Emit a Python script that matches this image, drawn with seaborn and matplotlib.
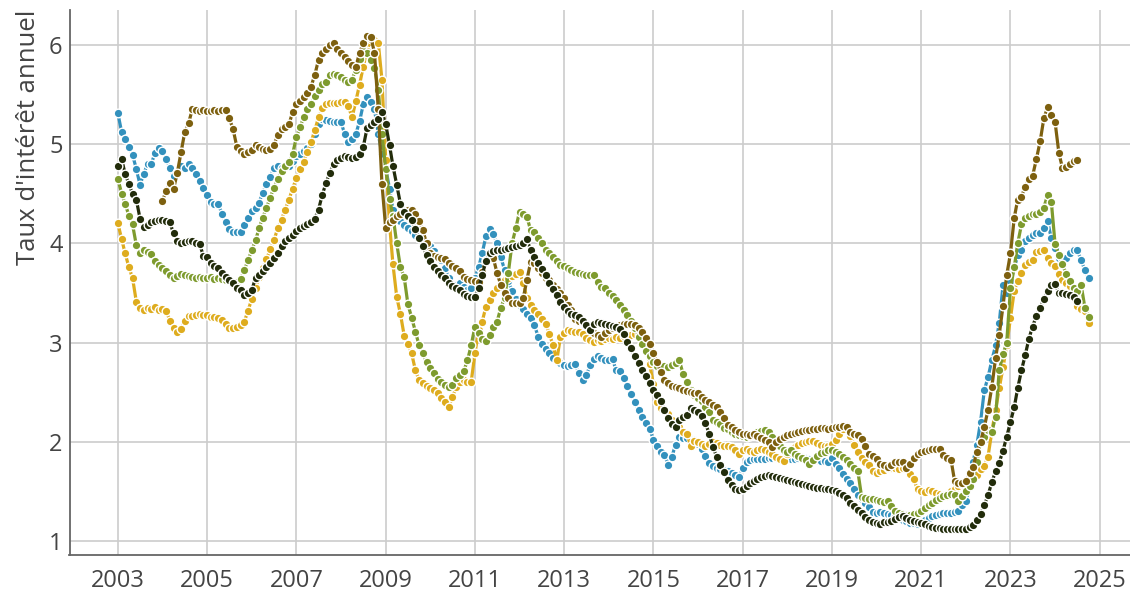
import pandas as pd
import matplotlib
matplotlib.use('Agg')
import matplotlib.pyplot as plt
import matplotlib.dates as mdates
from matplotlib.ticker import FixedLocator
import seaborn as sns

# taux mensuels, une ligne par année
blue = [
    5.31, 5.12, 5.05, 4.97, 4.89, 4.75, 4.59, 4.70, 4.80, 4.80, 4.91, 4.96,
    4.93, 4.85, 4.76, 4.68, 4.72, 4.78, 4.76, 4.80, 4.76, 4.70, 4.63, 4.56,
    4.49, 4.42, 4.40, 4.40, 4.30, 4.21, 4.14, 4.11, 4.11, 4.11, 4.18, 4.26,
    4.33, 4.36, 4.41, 4.51, 4.60, 4.67, 4.76, 4.78, 4.76, 4.77, 4.78, 4.83,
    4.88, 4.90, 4.93, 4.96, 5.00, 5.10, 5.20, 5.25, 5.24, 5.23, 5.22, 5.22,
    5.22, 5.10, 5.02, 5.05, 5.10, 5.23, 5.40, 5.47, 5.42, 5.35, 5.10, 4.90,
    4.76, 4.55, 4.34, 4.25, 4.22, 4.18, 4.15, 4.12, 4.08, 4.05, 4.02, 3.99,
    3.97, 3.92, 3.87, 3.83, 3.75, 3.65, 3.56, 3.58, 3.60, 3.56, 3.53, 3.55,
    3.65, 3.76, 3.90, 4.07, 4.14, 4.09, 4.00, 3.86, 3.73, 3.62, 3.52, 3.44,
    3.38, 3.34, 3.29, 3.25, 3.18, 3.06, 2.99, 2.93, 2.89, 2.84, 2.81, 2.79,
    2.77, 2.76, 2.77, 2.78, 2.69, 2.62, 2.67, 2.77, 2.83, 2.86, 2.84, 2.82,
    2.82, 2.83, 2.72, 2.71, 2.64, 2.56, 2.48, 2.40, 2.32, 2.25, 2.19, 2.13,
    2.02, 1.96, 1.90, 1.87, 1.77, 1.85, 1.97, 2.05, 2.04, 2.04, 2.03, 2.02,
    1.98, 1.93, 1.86, 1.79, 1.76, 1.74, 1.72, 1.71, 1.70, 1.68, 1.66, 1.64,
    1.74, 1.80, 1.82, 1.83, 1.83, 1.83, 1.83, 1.84, 1.84, 1.84, 1.83, 1.82,
    1.83, 1.83, 1.83, 1.84, 1.85, 1.84, 1.83, 1.82, 1.82, 1.81, 1.81, 1.80,
    1.84, 1.78, 1.74, 1.67, 1.62, 1.58, 1.52, 1.46, 1.42, 1.38, 1.34, 1.29,
    1.28, 1.29, 1.28, 1.27, 1.26, 1.25, 1.23, 1.21, 1.20, 1.18, 1.18, 1.17,
    1.19, 1.21, 1.23, 1.25, 1.26, 1.27, 1.28, 1.28, 1.28, 1.29, 1.30, 1.36,
    1.40, 1.55, 1.80, 1.97, 2.20, 2.52, 2.65, 2.82, 2.97, 3.20, 3.58, 3.50,
    3.62, 3.75, 3.88, 3.93, 4.02, 4.05, 4.08, 4.10, 4.10, 4.15, 4.22, 4.05,
    3.95, 3.85, 3.85, 3.85, 3.90, 3.93, 3.93, 3.83, 3.73, 3.65,
]

dark = [
    4.78, 4.85, 4.70, 4.60, 4.50, 4.44, 4.25, 4.16, 4.18, 4.21, 4.23, 4.24,
    4.24, 4.23, 4.21, 4.10, 4.02, 4.00, 4.01, 4.02, 4.02, 4.00, 3.99, 3.87,
    3.86, 3.80, 3.77, 3.75, 3.70, 3.66, 3.63, 3.60, 3.55, 3.53, 3.48, 3.50,
    3.53, 3.65, 3.68, 3.72, 3.76, 3.80, 3.85, 3.90, 3.97, 4.02, 4.05, 4.08,
    4.12, 4.15, 4.17, 4.19, 4.21, 4.25, 4.34, 4.49, 4.61, 4.71, 4.80, 4.84,
    4.86, 4.88, 4.87, 4.86, 4.87, 4.90, 4.97, 5.16, 5.19, 5.22, 5.25, 5.32,
    5.20, 4.99, 4.78, 4.59, 4.40, 4.32, 4.28, 4.24, 4.14, 4.05, 3.97, 3.88,
    3.82, 3.76, 3.72, 3.68, 3.65, 3.60, 3.57, 3.55, 3.53, 3.49, 3.47, 3.46,
    3.46, 3.55, 3.68, 3.82, 3.90, 3.92, 3.93, 3.93, 3.94, 3.95, 3.96, 3.97,
    3.98, 4.00, 4.04, 3.93, 3.86, 3.80, 3.74, 3.68, 3.60, 3.54, 3.48, 3.41,
    3.36, 3.32, 3.29, 3.28, 3.26, 3.22, 3.18, 3.13, 3.19, 3.21, 3.20, 3.19,
    3.18, 3.17, 3.16, 3.14, 3.09, 3.01, 2.94, 2.86, 2.79, 2.72, 2.66, 2.59,
    2.52, 2.47, 2.41, 2.32, 2.24, 2.18, 2.15, 2.22, 2.25, 2.27, 2.34, 2.32,
    2.30, 2.26, 2.19, 2.08, 1.95, 1.85, 1.77, 1.69, 1.61, 1.56, 1.52, 1.51,
    1.52, 1.55, 1.58, 1.60, 1.62, 1.64, 1.65, 1.66, 1.65, 1.64, 1.63, 1.62,
    1.61, 1.60, 1.59, 1.58, 1.57, 1.56, 1.55, 1.54, 1.53, 1.53, 1.52, 1.52,
    1.51, 1.50, 1.48, 1.46, 1.43, 1.38, 1.35, 1.31, 1.28, 1.24, 1.21, 1.19,
    1.18, 1.17, 1.19, 1.19, 1.20, 1.22, 1.24, 1.25, 1.23, 1.21, 1.20, 1.19,
    1.18, 1.17, 1.15, 1.14, 1.13, 1.13, 1.12, 1.12, 1.12, 1.12, 1.12, 1.12,
    1.12, 1.14, 1.16, 1.21, 1.27, 1.36, 1.46, 1.59, 1.70, 1.79, 1.91, 2.05,
    2.20, 2.35, 2.54, 2.72, 2.87, 3.04, 3.16, 3.27, 3.35, 3.44, 3.52, 3.58,
    3.59, 3.50, 3.50, 3.49, 3.48, 3.46, 3.42,
]

# commence en janvier 2004
brown = [
    4.43, 4.53, 4.61, 4.55, 4.71, 4.92, 5.12, 5.21, 5.35, 5.34, 5.33, 5.34,
    5.33, 5.33, 5.34, 5.33, 5.34, 5.34, 5.26, 5.15, 4.97, 4.93, 4.90, 4.92,
    4.94, 4.99, 4.97, 4.95, 4.94, 4.95, 4.99, 5.09, 5.15, 5.17, 5.20, 5.32,
    5.40, 5.43, 5.48, 5.52, 5.58, 5.70, 5.85, 5.92, 5.96, 6.00, 6.02, 5.96,
    5.92, 5.88, 5.84, 5.80, 5.78, 5.92, 6.02, 6.09, 6.08, 5.92, 5.35, 4.60,
    4.15, 4.21, 4.24, 4.28, 4.30, 4.33, 4.34, 4.34, 4.30, 4.22, 4.13, 4.00,
    3.90, 3.87, 3.86, 3.85, 3.84, 3.80, 3.77, 3.75, 3.72, 3.66, 3.64, 3.63,
    3.62, 3.61, 3.71, 3.83, 3.85, 3.85, 3.70, 3.58, 3.50, 3.45, 3.40, 3.40,
    3.40, 3.45, 3.63, 3.81, 3.80, 3.75, 3.70, 3.65, 3.63, 3.58, 3.54, 3.50,
    3.45, 3.38, 3.33, 3.24, 3.22, 3.21, 3.19, 3.16, 3.10, 3.08, 3.06, 3.10,
    3.13, 3.15, 3.17, 3.18, 3.19, 3.19, 3.19, 3.18, 3.15, 3.11, 3.05, 2.99,
    2.89, 2.80, 2.70, 2.62, 2.59, 2.56, 2.55, 2.54, 2.52, 2.51, 2.50, 2.49,
    2.49, 2.45, 2.42, 2.40, 2.37, 2.35, 2.30, 2.24, 2.17, 2.15, 2.12, 2.10,
    2.08, 2.08, 2.07, 2.08, 2.06, 2.04, 2.02, 2.00, 1.95, 2.00, 2.03, 2.05,
    2.07, 2.08, 2.09, 2.10, 2.11, 2.12, 2.12, 2.13, 2.13, 2.14, 2.14, 2.13,
    2.14, 2.15, 2.15, 2.16, 2.15, 2.10, 2.08, 2.07, 2.03, 1.96, 1.88, 1.86,
    1.83, 1.78, 1.77, 1.75, 1.77, 1.80, 1.80, 1.80, 1.73, 1.78, 1.84, 1.88,
    1.90, 1.91, 1.92, 1.93, 1.93, 1.93, 1.87, 1.84, 1.82, 1.60, 1.58, 1.58,
    1.60, 1.68, 1.75, 1.90, 2.00, 2.15, 2.32, 2.55, 2.84, 3.08, 3.37, 3.68,
    3.90, 4.26, 4.44, 4.47, 4.57, 4.65, 4.68, 4.85, 5.03, 5.26, 5.37, 5.29,
    5.22, 4.91, 4.76, 4.77, 4.80, 4.83, 4.84,
]

green = [
    4.65, 4.50, 4.40, 4.28, 4.19, 3.98, 3.90, 3.93, 3.91, 3.89, 3.82, 3.78,
    3.75, 3.72, 3.68, 3.65, 3.67, 3.69, 3.68, 3.67, 3.66, 3.65, 3.66, 3.65,
    3.65, 3.66, 3.64, 3.65, 3.64, 3.63, 3.63, 3.59, 3.61, 3.64, 3.73, 3.83,
    3.93, 4.03, 4.15, 4.26, 4.36, 4.46, 4.56, 4.65, 4.73, 4.78, 4.82, 4.90,
    5.07, 5.17, 5.27, 5.35, 5.40, 5.49, 5.55, 5.61, 5.63, 5.70, 5.71, 5.70,
    5.68, 5.65, 5.63, 5.65, 5.75, 5.86, 5.94, 5.92, 5.85, 5.77, 5.55, 5.10,
    4.75, 4.45, 4.28, 4.00, 3.76, 3.66, 3.39, 3.25, 3.11, 2.97, 2.89, 2.80,
    2.74, 2.69, 2.63, 2.60, 2.57, 2.55, 2.57, 2.64, 2.67, 2.71, 2.82, 2.97,
    3.16, 3.10, 3.04, 3.02, 3.08, 3.16, 3.21, 3.35, 3.45, 3.70, 4.00, 4.15,
    4.32, 4.30, 4.27, 4.13, 4.11, 4.05, 4.00, 3.93, 3.90, 3.86, 3.82, 3.78,
    3.77, 3.75, 3.73, 3.71, 3.70, 3.69, 3.68, 3.68, 3.68, 3.61, 3.56, 3.55,
    3.50, 3.47, 3.43, 3.38, 3.33, 3.28, 3.22, 3.15, 3.06, 2.99, 2.91, 2.86,
    2.80, 2.76, 2.74, 2.76, 2.75, 2.77, 2.79, 2.82, 2.68, 2.60, 2.52, 2.47,
    2.44, 2.41, 2.35, 2.30, 2.22, 2.20, 2.18, 2.14, 2.13, 2.10, 2.08, 2.07,
    2.06, 2.05, 2.06, 2.08, 2.10, 2.11, 2.12, 2.10, 2.05, 2.00, 1.96, 1.92,
    1.90, 1.92, 1.88, 1.86, 1.84, 1.82, 1.78, 1.82, 1.86, 1.89, 1.90, 1.92,
    1.92, 1.90, 1.88, 1.85, 1.82, 1.78, 1.74, 1.70, 1.44, 1.43, 1.42, 1.42,
    1.41, 1.40, 1.39, 1.40, 1.35, 1.30, 1.28, 1.27, 1.26, 1.26, 1.27, 1.28,
    1.30, 1.33, 1.36, 1.38, 1.41, 1.43, 1.45, 1.46, 1.47, 1.46, 1.40, 1.45,
    1.50, 1.55, 1.62, 1.80, 2.00, 2.05, 2.12, 2.10, 2.25, 2.72, 2.88, 3.00,
    3.55, 3.76, 4.00, 4.19, 4.26, 4.28, 4.30, 4.30, 4.32, 4.36, 4.49, 4.42,
    3.99, 3.88, 3.79, 3.69, 3.62, 3.55, 3.52, 3.58, 3.35, 3.26,
]

gold = [
    4.20, 4.04, 3.90, 3.76, 3.65, 3.41, 3.35, 3.33, 3.35, 3.34, 3.36, 3.33,
    3.34, 3.32, 3.22, 3.15, 3.11, 3.14, 3.22, 3.27, 3.27, 3.28, 3.29, 3.28,
    3.28, 3.26, 3.26, 3.25, 3.23, 3.19, 3.15, 3.15, 3.16, 3.18, 3.21, 3.32,
    3.44, 3.55, 3.66, 3.75, 3.84, 3.94, 4.03, 4.15, 4.24, 4.34, 4.44, 4.55,
    4.66, 4.75, 4.82, 4.92, 5.02, 5.14, 5.27, 5.36, 5.40, 5.41, 5.41, 5.41,
    5.42, 5.42, 5.38, 5.27, 5.43, 5.60, 5.78, 5.94, 6.06, 6.05, 6.02, 5.65,
    4.84, 4.20, 3.79, 3.46, 3.29, 3.07, 2.99, 2.89, 2.72, 2.62, 2.59, 2.56,
    2.54, 2.52, 2.49, 2.44, 2.40, 2.35, 2.45, 2.55, 2.60, 2.62, 2.60, 2.60,
    2.89, 3.13, 3.21, 3.36, 3.43, 3.50, 3.55, 3.60, 3.63, 3.65, 3.67, 3.69,
    3.71, 3.60, 3.45, 3.38, 3.33, 3.29, 3.24, 3.19, 3.09, 2.97, 2.82, 3.06,
    3.10, 3.13, 3.12, 3.11, 3.11, 3.09, 3.05, 3.03, 3.01, 3.03, 3.02, 3.04,
    3.05, 3.04, 3.06, 3.05, 3.07, 3.08, 3.08, 3.09, 3.09, 3.00, 2.95, 2.78,
    2.58, 2.40, 2.34, 2.32, 2.28, 2.22, 2.17, 2.15, 2.10, 2.08, 1.96, 2.01,
    2.00, 1.98, 1.96, 1.98, 2.00, 1.99, 1.97, 1.96, 1.96, 1.95, 1.92, 1.88,
    1.92, 1.93, 1.91, 1.90, 1.92, 1.93, 1.92, 1.90, 1.88, 1.85, 1.83, 1.81,
    1.88, 1.92, 1.95, 1.97, 1.99, 2.00, 2.01, 2.01, 1.99, 1.97, 1.96, 1.96,
    1.98, 2.02, 2.08, 2.13, 2.16, 2.06, 1.97, 1.90, 1.84, 1.80, 1.77, 1.70,
    1.68, 1.70, 1.71, 1.73, 1.74, 1.74, 1.72, 1.74, 1.77, 1.67, 1.62, 1.52,
    1.50, 1.49, 1.51, 1.50, 1.48, 1.47, 1.46, 1.45, 1.50, 1.52, 1.55, 1.57,
    1.58, 1.60, 1.63, 1.66, 1.72, 1.76, 1.85, 2.10, 2.32, 2.54, 2.75, 2.97,
    3.25, 3.52, 3.62, 3.70, 3.78, 3.81, 3.83, 3.91, 3.92, 3.93, 3.85, 3.80,
    3.77, 3.69, 3.63, 3.60, 3.57, 3.45, 3.37, 3.34, 3.32, 3.20,
]

series = [
    ('bleu', '2003-01-01', blue, '#3391BD'),
    ('or', '2003-01-01', gold, '#DEAC1E'),
    ('vert', '2003-01-01', green, '#7E9B2E'),
    ('brun', '2004-01-01', brown, '#7D600F'),
    ('noir', '2003-01-01', dark, '#222C0B'),
]

sns.set_theme(style='white')
plt.rcParams['font.family'] = ['Open Sans', 'DejaVu Sans']

W, H = 1130, 596
fig = plt.figure(figsize=(W / 100, H / 100), dpi=100)
ax = fig.add_axes([69.5 / W, 1 - 555 / H, 1 - 69.5 / W, (555 - 10) / H])

for name, start, vals, col in series:
    df = pd.DataFrame({'date': pd.date_range(start, periods=len(vals), freq='MS'),
                       'taux': vals})
    sns.lineplot(data=df, x='date', y='taux', ax=ax, color=col, lw=2.3,
                 marker='o', markersize=6.2, markeredgecolor='white',
                 markeredgewidth=1.0)

ax.set_xlim(pd.Timestamp('2001-12-01'), pd.Timestamp('2025-09-05'))
ax.set_ylim(0.858, 6.352)

odd_years = [mdates.date2num(pd.Timestamp(f'{y}-01-01')) for y in range(2003, 2026, 2)]
ax.xaxis.set_major_locator(FixedLocator(odd_years))
ax.xaxis.set_major_formatter(mdates.DateFormatter('%Y'))
ax.xaxis.set_minor_locator(mdates.YearLocator(1))
ax.set_yticks([1, 2, 3, 4, 5, 6])

ax.grid(True, which='major', color='#cccccc', lw=1.2)
ax.set_axisbelow(True)
for s in ['top', 'right']:
    ax.spines[s].set_visible(False)
for s in ['left', 'bottom']:
    ax.spines[s].set_color('#666666')
    ax.spines[s].set_linewidth(1.3)

ax.tick_params(axis='x', which='both', direction='in', length=7, width=1.1,
               color='#666666', labelsize=17, labelcolor='#444444', pad=10)
ax.tick_params(axis='y', which='major', direction='in', length=6, width=1.1,
               color='#666666', labelsize=17, labelcolor='#444444', pad=5)

ax.set_xlabel('')
ax.set_ylabel("Taux d'intérêt annuel", fontsize=18.5, color='#444444',
              loc='top', labelpad=6)

fig.savefig('out.png', dpi=100)
